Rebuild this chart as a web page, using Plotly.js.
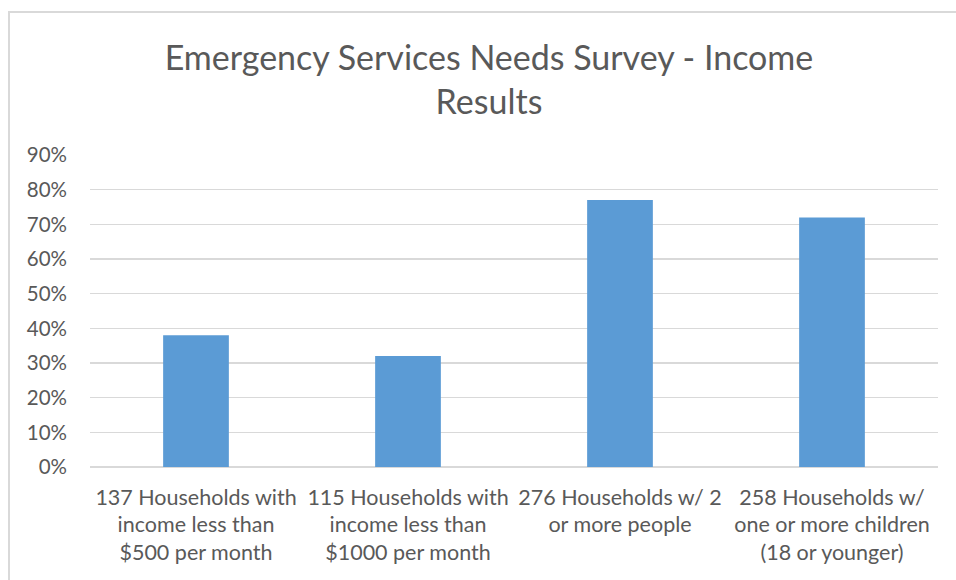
<!DOCTYPE html>
<html>
<head>
<meta charset="utf-8">
<script src="https://cdn.plot.ly/plotly-3.0.1.min.js"></script>
<style>
  html, body { margin: 0; padding: 0; background: #fff; }
  #frame { position: absolute; left: 8px; top: 11px; width: 960px; height: 580px;
           border-left: 2px solid #d9d9d9; border-top: 2px solid #d9d9d9; }
  #chart { position: absolute; left: 0; top: 0; width: 956px; height: 580px; }
</style>
</head>
<body>
<div id="frame"></div>
<div id="chart"></div>
<script>
const categories = [
  "137 Households with<br>income less than<br>$500 per month",
  "115 Households with<br>income less than<br>$1000 per month",
  "276 Households w/ 2<br>or more people",
  "258 Households w/<br>one or more children<br>(18 or younger)"
];
const values = [0.38, 0.32, 0.77, 0.72];
const tickVals = [0, 0.1, 0.2, 0.3, 0.4, 0.5, 0.6, 0.7, 0.8, 0.9];
const tickText = ["0%", "10%", "20%", "30%", "40%", "50%", "60%", "70%", "80%", "90%"];

const font = "Lato, 'Open Sans', sans-serif";
const data = [{
  type: "bar",
  x: categories,
  y: values,
  marker: { color: "#5B9BD5" },
  width: 0.31,
  hoverinfo: "skip"
}];
const layout = {
  width: 956, height: 580,
  margin: { l: 90, r: 18, t: 155, b: 113 },
  paper_bgcolor: "rgba(0,0,0,0)",
  plot_bgcolor: "rgba(0,0,0,0)",
  title: {
    text: "Emergency Services Needs Survey - Income<br>Results",
    font: { family: font, size: 34, color: "#595959" },
    x: 0.5115, xanchor: "center", y: 0.880, yanchor: "middle"
  },
  xaxis: {
    tickfont: { family: font, size: 21.5, color: "#595959" },
    showgrid: false, showline: false, ticks: "", ticklen: 0,
    ticklabelstandoff: 15
  },
  yaxis: {
    range: [0, 0.9],
    tickvals: tickVals, ticktext: tickText,
    tickfont: { family: font, size: 20.5, color: "#595959" },
    gridcolor: "#d9d9d9", gridwidth: 1.5,
    zeroline: true, zerolinecolor: "#d9d9d9", zerolinewidth: 1.5,
    showline: false, ticks: "", ticklabelstandoff: 22
  },
  showlegend: false
};
Plotly.newPlot("chart", data, layout, { displayModeBar: false, staticPlot: true });
</script>
</body>
</html>
